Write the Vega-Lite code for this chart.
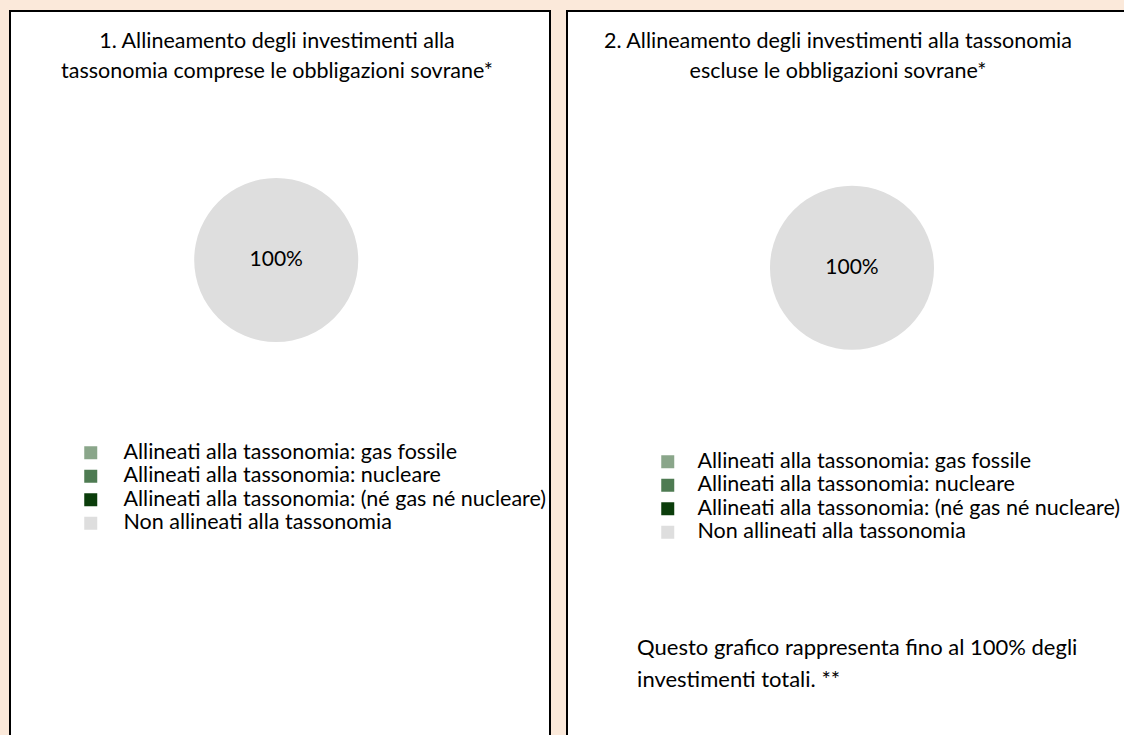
{
  "$schema": "https://vega.github.io/schema/vega-lite/v6.json",
  "background": "#fbe9da",
  "padding": {"left": 9, "top": 10, "right": 0, "bottom": 0},
  "spacing": 15,
  "datasets": {
    "quote": [
      {"categoria": "Allineati alla tassonomia: gas fossile", "quota": 0},
      {"categoria": "Allineati alla tassonomia: nucleare", "quota": 0},
      {"categoria": "Allineati alla tassonomia: (né gas né nucleare)", "quota": 0},
      {"categoria": "Non allineati alla tassonomia", "quota": 1}
    ],
    "nota": [
      {"testo": "Questo grafico rappresenta fino al 100% degli\ninvestimenti totali. **"}
    ]
  },
  "hconcat": [
    {
      "width": 540,
      "height": 740,
      "title": {
        "text": ["1. Allineamento degli investimenti alla", "tassonomia comprese le obbligazioni sovrane*"],
        "anchor": "middle",
        "offset": -71,
        "dx": -3,
        "fontSize": 21.5,
        "fontWeight": "normal",
        "lineHeight": 30,
        "color": "#000000"
      },
      "data": {"name": "quote"},
      "layer": [
        {
          "mark": {"type": "arc", "radius": 82},
          "encoding": {
            "theta": {"field": "quota", "type": "quantitative", "stack": true},
            "x": {"datum": 0.493, "type": "quantitative", "scale": {"domain": [0, 1]}, "axis": null},
            "y": {"datum": 0.6635, "type": "quantitative", "scale": {"domain": [0, 1]}, "axis": null},
            "color": {
              "field": "categoria",
              "type": "nominal",
              "scale": {
                "domain": ["Allineati alla tassonomia: gas fossile", "Allineati alla tassonomia: nucleare", "Allineati alla tassonomia: (né gas né nucleare)", "Non allineati alla tassonomia"],
                "range": ["#8aa68a", "#4e7b52", "#0b3d0b", "#dedede"]
              },
              "legend": {
                "orient": "none",
                "legendX": 70,
                "legendY": 431,
                "title": null,
                "symbolType": "square",
                "symbolSize": 169,
                "symbolStrokeWidth": 0,
                "labelFontSize": 21.5,
                "labelFont": "Lato",
                "labelColor": "#000000",
                "labelOffset": 22,
                "labelLimit": 600,
                "rowPadding": 0.5,
                "padding": 0
              }
            }
          }
        },
        {
          "transform": [{"filter": "datum.quota > 0"}],
          "mark": {"type": "text", "fontSize": 21, "font": "Lato", "color": "#000000"},
          "encoding": {
            "text": {"field": "quota", "type": "quantitative", "format": ".0%"},
            "x": {"datum": 0.493, "type": "quantitative"},
            "y": {"datum": 0.6635, "type": "quantitative"}
          }
        }
      ]
    },
    {
      "width": 570,
      "height": 740,
      "title": {
        "text": ["2. Allineamento degli investimenti alla tassonomia", "escluse le obbligazioni sovrane*"],
        "anchor": "middle",
        "offset": -71,
        "dx": -14,
        "fontSize": 21.5,
        "fontWeight": "normal",
        "lineHeight": 30,
        "color": "#000000"
      },
      "layer": [
        {
          "data": {"name": "quote"},
          "mark": {"type": "arc", "radius": 82},
          "encoding": {
            "theta": {"field": "quota", "type": "quantitative", "stack": true},
            "y": {"datum": 0.653, "type": "quantitative", "scale": {"domain": [0, 1]}, "axis": null},
            "color": {
              "field": "categoria",
              "type": "nominal",
              "scale": {
                "domain": ["Allineati alla tassonomia: gas fossile", "Allineati alla tassonomia: nucleare", "Allineati alla tassonomia: (né gas né nucleare)", "Non allineati alla tassonomia"],
                "range": ["#8aa68a", "#4e7b52", "#0b3d0b", "#dedede"]
              },
              "legend": {
                "orient": "none",
                "legendX": 90,
                "legendY": 440,
                "title": null,
                "symbolType": "square",
                "symbolSize": 169,
                "symbolStrokeWidth": 0,
                "labelFontSize": 21.5,
                "labelFont": "Lato",
                "labelColor": "#000000",
                "labelOffset": 19,
                "labelLimit": 600,
                "rowPadding": 0.5,
                "padding": 0
              }
            }
          }
        },
        {
          "data": {"name": "quote"},
          "transform": [{"filter": "datum.quota > 0"}],
          "mark": {"type": "text", "fontSize": 21, "font": "Lato", "color": "#000000"},
          "encoding": {
            "text": {"field": "quota", "type": "quantitative", "format": ".0%"},
            "y": {"datum": 0.653, "type": "quantitative"}
          }
        },
        {
          "data": {"name": "nota"},
          "mark": {"type": "text", "fontSize": 22, "font": "Lato", "color": "#000000", "align": "left", "baseline": "top", "lineBreak": "\n", "lineHeight": 32},
          "encoding": {
            "text": {"field": "testo", "type": "nominal"},
            "x": {"datum": 0.123, "type": "quantitative", "scale": {"domain": [0, 1]}, "axis": null},
            "y": {"datum": 0.153, "type": "quantitative"}
          }
        }
      ]
    }
  ],
  "resolve": {"scale": {"color": "independent"}, "legend": {"color": "independent"}},
  "config": {
    "font": "Lato",
    "view": {"stroke": "#000000", "strokeWidth": 2, "fill": "#ffffff"}
  }
}
